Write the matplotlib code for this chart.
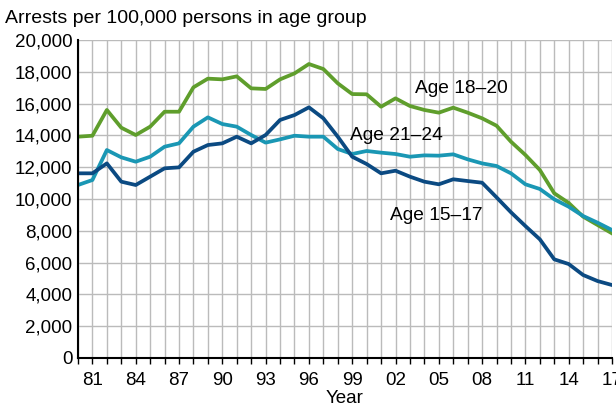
from matplotlib import pyplot as plt

years = list(range(1980, 2018))

age_15_17 = [11615, 11615, 12240, 11090, 10880, 11405, 11930, 11990, 12975, 13395,
             13500, 13920, 13500, 14025, 14970, 15280, 15765, 15075, 13920, 12660,
             12200, 11615, 11780, 11405, 11090, 10925, 11240, 11130, 11025, 10105,
             9165, 8300, 7465, 6205, 5910, 5220, 4840, 4590]
age_18_20 = [13920, 13980, 15600, 14485, 14025, 14550, 15490, 15490, 17025, 17570,
             17525, 17715, 16960, 16920, 17525, 17900, 18490, 18175, 17275, 16600,
             16585, 15805, 16330, 15850, 15600, 15430, 15745, 15430, 15075, 14610,
             13605, 12770, 11825, 10360, 9750, 8890, 8365, 7840]
age_21_24 = [10880, 11195, 13080, 12620, 12345, 12660, 13290, 13500, 14550, 15135,
             14715, 14550, 14025, 13545, 13750, 13980, 13920, 13920, 13145, 12830,
             13020, 12915, 12830, 12660, 12745, 12725, 12810, 12495, 12240, 12075,
             11615, 10925, 10630, 9980, 9515, 8930, 8510, 8050]

y_ticks = [0, 2000, 4000, 6000, 8000, 10000, 12000, 14000, 16000, 18000, 20000]
label_years = list(range(1981, 2018, 3))


class ArrestChart:
    def __init__(self, filename="out.png"):
        self._filename = filename

    @property
    def filename(self):
        return self._filename

    def draw(self):
        '''
        Draws the three age group series on one grid and writes the picture.

        :return: Name of the written file.
        '''
        plt.rcParams['font.family'] = ['Liberation Sans', 'DejaVu Sans']
        plt.figure(figsize=(6.16, 4.07), dpi=100)
        plt.axes([0.1266, 0.1204, 0.8669, 0.7813])

        plt.plot(years, age_18_20, color="#5f9e2c", linewidth=2.7, zorder=3)
        plt.plot(years, age_21_24, color="#1a97b4", linewidth=2.7, zorder=4)
        plt.plot(years, age_15_17, color="#0b4a82", linewidth=2.7, zorder=5)

        plt.text(2003.35, 16980, "Age 18\u201320", fontsize=13.8, va="center")
        plt.text(1998.85, 14025, "Age 21\u201324", fontsize=13.8, va="center")
        plt.text(2001.65, 8990, "Age 15\u201317", fontsize=13.8, va="center")

        plt.xlim(1980, 2017)
        plt.ylim(0, 20000)
        plt.yticks(y_ticks, [f"{v:,}" for v in y_ticks], fontsize=13.5)
        x_labels = [f"{y % 100:02d}" if y in label_years else "" for y in years]
        plt.xticks(years, x_labels, fontsize=13.5)
        ax = plt.gca()
        ax.tick_params(axis="x", length=4, width=1, direction="out", pad=6)
        ax.tick_params(axis="y", length=0, pad=4)
        plt.grid(True, color="#bbbbbb", linewidth=1)
        ax.set_axisbelow(True)
        for side in ["top", "right"]:
            ax.spines[side].set_visible(False)
        for side in ["left", "bottom"]:
            ax.spines[side].set_linewidth(1.5)
            ax.spines[side].set_zorder(6)

        plt.xlabel("Year", fontsize=13.5, labelpad=1)
        plt.figtext(0.008, 0.955, "Arrests per 100,000 persons in age group", fontsize=14, va="center")
        plt.savefig(self.filename, dpi=100)
        return self.filename


if __name__ == '__main__':
    ArrestChart().draw()
